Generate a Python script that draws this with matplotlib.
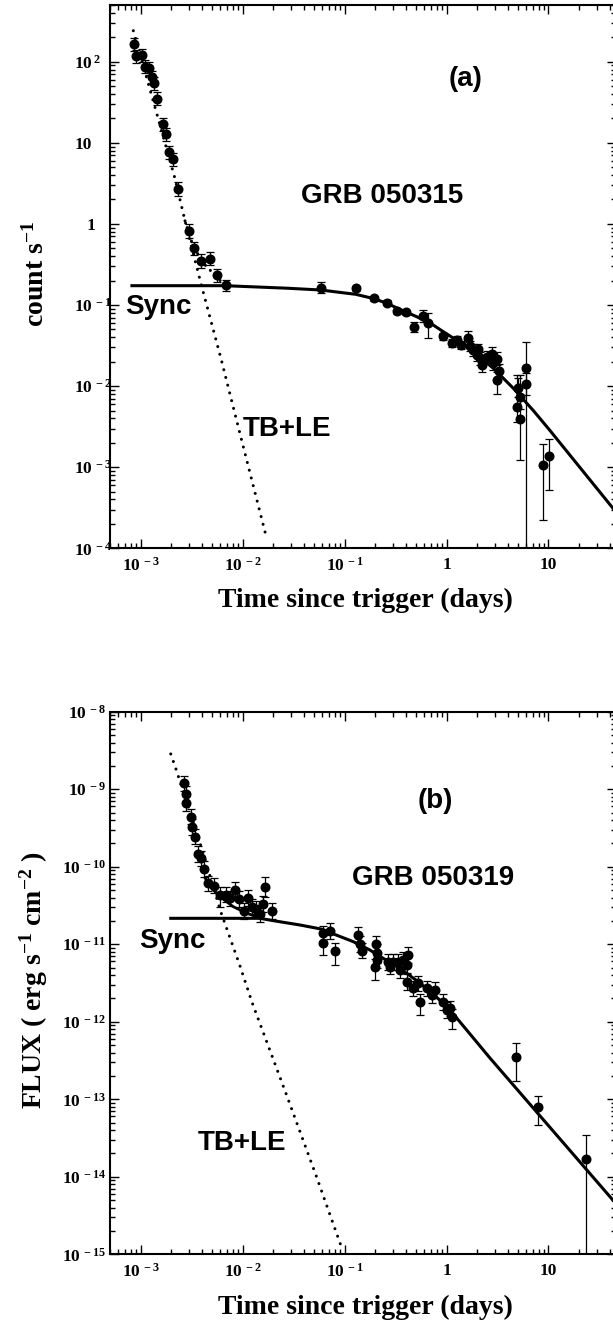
import numpy as np
import matplotlib
matplotlib.use("Agg")
import matplotlib.pyplot as plt
from matplotlib.ticker import LogLocator, NullFormatter

plt.rcParams['font.family'] = ['Liberation Serif', 'DejaVu Serif']
plt.rcParams['font.weight'] = 'bold'
plt.rcParams['mathtext.fontset'] = 'custom'
plt.rcParams['mathtext.rm'] = 'Liberation Serif:bold'
plt.rcParams['mathtext.it'] = 'Liberation Serif:bold'
plt.rcParams['mathtext.bf'] = 'Liberation Serif:bold'
plt.rcParams['mathtext.default'] = 'rm'

# ---------------- panel (a) GRB 050315 : count s^-1 ----------------
t_a = [8.5e-4, 8.9e-4, 1.02e-3, 1.11e-3, 1.21e-3, 1.28e-3, 1.35e-3, 1.45e-3, 1.67e-3, 1.79e-3,
       1.91e-3, 2.07e-3, 2.34e-3, 2.98e-3, 3.34e-3, 3.88e-3, 4.74e-3, 5.56e-3, 6.8e-3,
       0.0587, 0.1285, 0.194, 0.259, 0.324, 0.400, 0.480, 0.592, 0.662,
       0.93, 1.12, 1.26, 1.38, 1.61, 1.70, 1.83, 2.02, 1.98, 2.13, 2.21, 2.48, 2.77, 2.87,
       3.15, 3.29, 3.10, 4.99, 5.25, 4.89, 5.25, 6.09, 6.09, 8.75, 10.2]
f_a = [164, 117, 120, 87, 83, 64, 54, 35, 17, 12.7,
       7.6, 6.3, 2.7, 0.82, 0.50, 0.35, 0.37, 0.234, 0.174,
       0.163, 0.161, 0.121, 0.107, 0.084, 0.081, 0.053, 0.073, 0.060,
       0.041, 0.034, 0.037, 0.032, 0.039, 0.031, 0.028, 0.029, 0.024, 0.022, 0.018, 0.023, 0.025, 0.019,
       0.0216, 0.0155, 0.0119, 0.0096, 0.0074, 0.0055, 0.0039, 0.0166, 0.0106, 1.06e-3, 1.39e-3]
# error sizes in dex (down, up)
edn_a = [.08] * 12 + [.09, .09, .08, .09, .08, .08, .07,
         .07, .03, .03, .03, .03, .03, .06, .07, .18,
         .04, .05, .05, .05, .07, .06, .07, .06, .07, .08, .08, .07, .08, .08,
         .08, .08, .17, .12, .15, .18, .50, 3.0, .14, .68, .42]
eup_a = [.08] * 12 + [.09, .09, .08, .09, .08, .08, .07,
         .07, .03, .03, .03, .03, .03, .06, .07, .12,
         .04, .05, .05, .05, .09, .06, .07, .06, .07, .08, .08, .07, .08, .08,
         .08, .08, .10, .12, .15, .40, .54, .32, .14, .26, .21]

sync_t_a = [8.2e-4, 6.7e-3, 0.0274, 0.0587, 0.0902, 0.1285, 0.194, 0.259, 0.349, 0.509, 0.741,
            0.929, 1.58, 2.88, 4.52, 7.1, 10.2, 43.0, 50.0]
sync_f_a = [0.173, 0.173, 0.161, 0.153, 0.143, 0.1355, 0.1197, 0.105, 0.0885, 0.0718, 0.0566,
            0.0469, 0.0306, 0.0166, 0.0094, 0.0050, 0.0029, 3.11e-4, 2.45e-4]

tble_t_a = [8.46e-4, 1.39e-3, 2.17e-3, 2.72e-3, 3.88e-3, 6.12e-3, 9.95e-3, 1.73e-2]
tble_f_a = [241, 26.6, 3.61, 1.09, 0.188, 0.022, 1.97e-3, 1.29e-4]

sum_t_a = [2.72e-3, 3.16e-3, 3.41e-3, 3.76e-3, 4.28e-3, 4.79e-3, 5.36e-3, 6.24e-3, 6.98e-3]
sum_f_a = [1.09, 0.604, 0.476, 0.402, 0.311, 0.270, 0.223, 0.194, 0.181]

# ---------------- panel (b) GRB 050319 : flux ----------------
t_b = [2.66e-3, 2.78e-3, 2.78e-3, 3.08e-3, 3.15e-3, 3.41e-3, 3.61e-3, 3.89e-3, 4.15e-3, 4.60e-3,
       5.26e-3, 6.00e-3, 6.87e-3, 7.52e-3, 8.41e-3, 9.2e-3, 1.02e-2, 1.13e-2, 1.24e-2, 1.35e-2,
       1.48e-2, 1.58e-2, 1.66e-2, 1.92e-2,
       0.0618, 0.0719, 0.0621, 0.0805, 0.136, 0.142, 0.147, 0.203, 0.206, 0.209, 0.200,
       0.268, 0.301, 0.337, 0.377, 0.422, 0.407, 0.279, 0.349, 0.407, 0.472, 0.528, 0.549,
       0.639, 0.715, 0.770, 0.930, 1.00, 1.12, 1.08,
       4.80, 7.98, 23.1]
f_b = [1.19e-9, 8.67e-10, 6.58e-10, 4.42e-10, 3.25e-10, 2.44e-10, 1.46e-10, 1.28e-10, 9.29e-11, 6.11e-11,
       5.72e-11, 4.31e-11, 4.38e-11, 3.91e-11, 5.04e-11, 3.83e-11, 2.70e-11, 3.94e-11, 3.06e-11, 2.84e-11,
       2.45e-11, 3.30e-11, 5.52e-11, 2.70e-11,
       1.38e-11, 1.48e-11, 1.03e-11, 8.17e-12, 1.32e-11, 1.01e-11, 8.30e-12, 1.02e-11, 7.63e-12, 6.26e-12, 5.15e-12,
       5.94e-12, 5.94e-12, 5.94e-12, 6.25e-12, 7.26e-12, 5.40e-12, 5.13e-12, 4.65e-12, 3.28e-12, 2.70e-12, 3.13e-12, 1.81e-12,
       2.70e-12, 2.21e-12, 2.56e-12, 1.81e-12, 1.42e-12, 1.16e-12, 1.49e-12,
       3.48e-13, 7.86e-14, 1.71e-14]
edn_b = [.1] * 11 + [.15] + [.1] * 10 + [.13, .1,
         .1, .1, .15, .18, .1, .1, .1, .1, .12, .1, .17,
         .1, .1, .1, .1, .1, .1, .1, .1, .1, .1, .1, .17,
         .1, .1, .1, .1, .1, .16, .1,
         .31, .23, 3.0]
eup_b = [.1] * 11 + [.1] + [.1] * 10 + [.13, .1,
         .1, .1, .1, .1, .1, .1, .1, .1, .12, .1, .1,
         .1, .1, .1, .1, .1, .1, .1, .1, .1, .1, .1, .1,
         .1, .1, .1, .1, .1, .1, .1,
         .19, .15, .30]

sync_t_b = [1.97e-3, 1.48e-2, 0.0202, 0.0366, 0.0591, 0.0775, 0.1217, 0.1774, 0.2399, 0.349, 0.509,
            0.741, 1.081, 1.578, 2.67, 42.9, 50.0]
sync_f_b = [2.16e-11, 2.16e-11, 2.01e-11, 1.77e-11, 1.57e-11, 1.36e-11, 1.08e-11, 8.41e-12, 6.57e-12, 4.89e-12, 3.40e-12,
            2.28e-12, 1.42e-12, 7.82e-13, 3.40e-13, 5.0e-15, 4.0e-15]

tble_t_b = [1.97e-3, 2.22e-3, 3.82e-3, 6.10e-3, 9.42e-3, 1.24e-2, 2.63e-2, 5.32e-2, 9.42e-2]
tble_f_b = [2.85e-9, 1.81e-9, 2.02e-10, 2.62e-11, 5.24e-12, 1.76e-12, 1.24e-13, 9.9e-15, 1.19e-15]

sum_t_b = [4.28e-3, 5.0e-3, 6.0e-3, 8.09e-3, 1.10e-2, 1.48e-2]
sum_f_b = [7.14e-11, 5.31e-11, 4.10e-11, 3.05e-11, 2.51e-11, 2.18e-11]

xticks = [1e-3, 1e-2, 1e-1, 1, 10]
xticklabels = [r'$10^{\,-3}$', r'$10^{\,-2}$', r'$10^{\,-1}$', '1', '10']
yticks_a = [1e-4, 1e-3, 1e-2, 1e-1, 1, 10, 100]
yticklabels_a = [r'$10^{\,-4}$', r'$10^{\,-3}$', r'$10^{\,-2}$', r'$10^{\,-1}$', '   1', '10', r'$10^{\,2}$']
yticks_b = [1e-15, 1e-14, 1e-13, 1e-12, 1e-11, 1e-10, 1e-9, 1e-8]
yticklabels_b = [r'$10^{\,%d}$' % e for e in range(-15, -7)]

W, H = 613, 1326
fig = plt.figure(figsize=(W / 100, H / 100), dpi=100)


def fx(px):
    return px / W


def fy(py):
    return 1 - py / H


def panel(top, bot):
    left, right = 109.5, 616
    return fig.add_axes([fx(left), fy(bot), (right - left) / W, (bot - top) / H])


def style(ax, yticks, ylabels, ylim, ha, pad):
    ax.set_xscale('log')
    ax.set_yscale('log')
    ax.set_xlim(4.94e-4, 46)
    ax.set_ylim(*ylim)
    ax.set_xticks(xticks)
    ax.set_xticklabels(xticklabels, fontsize=12.5)
    ax.set_yticks(yticks)
    ax.set_yticklabels(ylabels, fontsize=12.5, ha=ha)
    ax.xaxis.set_minor_locator(LogLocator(base=10, subs=np.arange(2, 10), numticks=30))
    ax.yaxis.set_minor_locator(LogLocator(base=10, subs=np.arange(2, 10), numticks=30))
    ax.xaxis.set_minor_formatter(NullFormatter())
    ax.yaxis.set_minor_formatter(NullFormatter())
    ax.tick_params(which='both', direction='in', top=True, right=True, width=1.0)
    ax.tick_params(which='major', length=6.5)
    ax.tick_params(which='minor', length=3.5)
    ax.tick_params(axis='x', pad=6)
    ax.tick_params(axis='y', pad=pad)
    for s in ax.spines.values():
        s.set_linewidth(1.5)


def draw(ax, t, f, dn, up, st, sf, tt, tf, ut, uf, sum_dotted):
    t = np.array(t)
    f = np.array(f)
    lo = f - f * 10 ** (-np.array(dn))
    hi = f * 10 ** np.array(up) - f
    ax.plot(st, sf, color='k', lw=2.2, zorder=2)
    ax.plot(tt, tf, color='k', lw=2.2, ls=(0, (0.01, 2.6)), dash_capstyle='round', zorder=2)
    if sum_dotted:
        ax.plot(ut, uf, color='k', lw=2.2, ls=(0, (0.01, 2.3)), dash_capstyle='round', zorder=2)
    else:
        ax.plot(ut, uf, color='k', lw=2.0, zorder=2)
    ax.errorbar(t, f, yerr=[lo, hi], fmt='o', color='k', ms=6.2, elinewidth=0.9,
                capsize=3, capthick=0.9, zorder=3)


ax1 = panel(5, 548.3)
draw(ax1, t_a, f_a, edn_a, eup_a, sync_t_a, sync_f_a, tble_t_a, tble_f_a, sum_t_a, sum_f_a, True)
style(ax1, yticks_a, yticklabels_a, (1e-4, 500), 'left', 25.5)

ax2 = panel(711.7, 1254.3)
draw(ax2, t_b, f_b, edn_b, eup_b, sync_t_b, sync_f_b, tble_t_b, tble_f_b, sum_t_b, sum_f_b, False)
style(ax2, yticks_b, yticklabels_b, (1e-15, 1e-8), 'right', 2.5)

# axis titles
fig.text(fx(365), fy(600), 'Time since trigger (days)', ha='center', va='center', fontsize=20)
fig.text(fx(365), fy(1307), 'Time since trigger (days)', ha='center', va='center', fontsize=20)
fig.text(fx(36), fy(274), r'count s$^{-1}$', rotation=90, ha='center', va='center', fontsize=20)
fig.text(fx(34), fy(980), r'FLUX ( erg s$^{-1}$ cm$^{-2}$ )', rotation=90, ha='center', va='center', fontsize=20)

# annotations
sans = dict(family=['Liberation Sans', 'DejaVu Sans'], weight='bold', fontsize=20)
fig.text(fx(466), fy(79), '(a)', ha='center', va='center', **sans)
fig.text(fx(382), fy(203.3), 'GRB 050315', ha='center', va='baseline', **sans)
fig.text(fx(125), fy(314), 'Sync', ha='left', va='baseline', **sans)
fig.text(fx(242.4), fy(436), 'TB+LE', ha='left', va='baseline', **sans)

fig.text(fx(435), fy(801.5), '(b)', ha='center', va='center', **sans)
fig.text(fx(433), fy(885), 'GRB 050319', ha='center', va='baseline', **sans)
fig.text(fx(138.8), fy(948), 'Sync', ha='left', va='baseline', **sans)
fig.text(fx(197.4), fy(1150), 'TB+LE', ha='left', va='baseline', **sans)

fig.savefig('out.png', dpi=100)
